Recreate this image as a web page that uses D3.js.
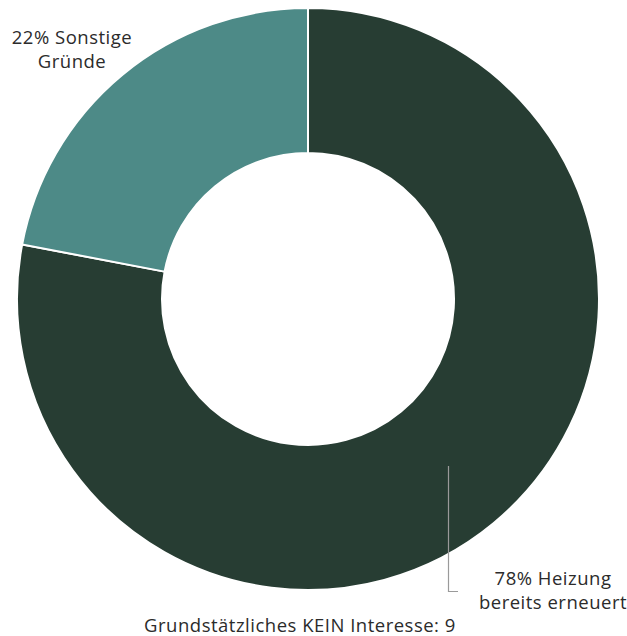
<!DOCTYPE html>
<html>
<head>
<meta charset="utf-8">
<script src="https://cdn.jsdelivr.net/npm/d3@7"></script>
<style>
  html, body { margin: 0; padding: 0; background: #fff; }
  svg { display: block; }
  text { font-family: "Open Sans", "Noto Sans", sans-serif; fill: #2b2b2b; letter-spacing: 0.5px; }
</style>
</head>
<body>
<svg id="chart" width="627" height="636"></svg>
<script>
// Share of reasons
const categories = ["Heizung bereits erneuert", "Sonstige Gründe"];
const values = [78, 22];
const colors = ["#273d33", "#4d8a87"];
const labelLines = [["78% Heizung", "bereits erneuert"], ["22% Sonstige", "Gründe"]];
const footnote = "Grundstätzliches KEIN Interesse: 9";

const svg = d3.select("#chart");
const cx = 308, cy = 299, rOuter = 291, rInner = 146;

const pie = d3.pie().sort(null).value(d => d)(values);
const arc = d3.arc().innerRadius(rInner).outerRadius(rOuter);

const g = svg.append("g").attr("transform", `translate(${cx},${cy})`);
g.selectAll("path")
  .data(pie)
  .join("path")
  .attr("d", arc)
  .attr("fill", (d, i) => colors[i])
  .attr("stroke", "#fff")
  .attr("stroke-width", 2);

// Leader line for the large slice
svg.append("path")
  .attr("d", "M448.5,466 V591.5 H458")
  .attr("fill", "none")
  .attr("stroke", "#9a9a9a")
  .attr("stroke-width", 1.2);

const fontSize = 18.5;
const labelPos = [{x: 553, y: 585}, {x: 72, y: 44}];
labelLines.forEach((lines, i) => {
  const t = svg.append("text")
    .attr("text-anchor", "middle")
    .attr("font-size", fontSize);
  lines.forEach((s, j) => {
    t.append("tspan")
      .attr("x", labelPos[i].x)
      .attr("y", labelPos[i].y + j * 24)
      .text(s);
  });
});

svg.append("text")
  .attr("x", 300)
  .attr("y", 632)
  .attr("text-anchor", "middle")
  .attr("font-size", fontSize)
  .text(footnote);
</script>
</body>
</html>
